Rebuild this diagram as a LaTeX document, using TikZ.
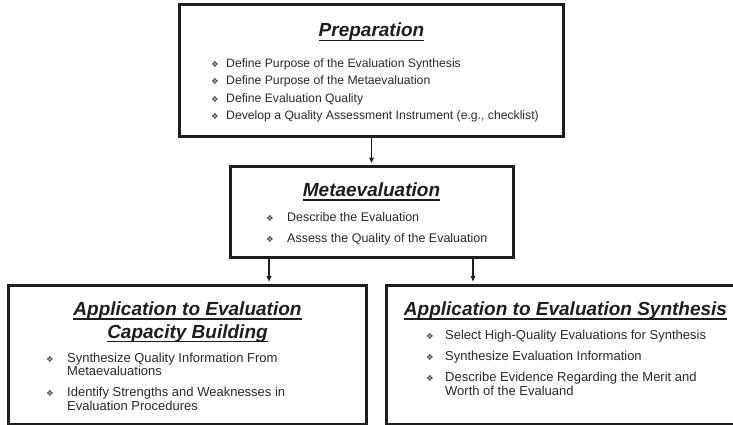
\documentclass[tikz,border=0pt]{standalone}
\usepackage{fontspec}
\setmainfont{Liberation Sans}
\newfontfamily\dingfont{DejaVu Sans}
\usetikzlibrary{arrows.meta}
\definecolor{ink}{HTML}{1E1E1E}
\definecolor{txt}{HTML}{2A2A2A}
\definecolor{dingcol}{HTML}{4A4A4A}
% underlined heading with a heavier rule than \underline gives
\newcommand\titleul[1]{\setbox0=\hbox{#1}\rlap{\rule[-4.2pt]{\wd0}{1.6pt}}\box0}

\begin{document}
\begin{tikzpicture}[x=1pt,y=-1pt,
  box/.style={draw=ink, line width=3pt, inner sep=0pt, fill=white},
  heading/.style={anchor=base, inner sep=0pt, text=ink,
    font=\fontsize{19}{22}\selectfont\bfseries\itshape},
  itemtext/.style={anchor=base west, inner sep=0pt, text=txt},
  smallitem/.style={itemtext, font=\fontsize{12.2}{14}\selectfont},
  miditem/.style={itemtext, font=\fontsize{12.5}{14}\selectfont},
  bigitem/.style={itemtext, font=\fontsize{13}{15}\selectfont},
  ding/.style={anchor=base, inner sep=0pt, text=dingcol,
    font=\dingfont\fontsize{8.5}{9}\selectfont},
  link/.style={draw=ink, line width=1.6pt, -{Latex[length=6pt,width=5.5pt]},
    shorten >=1.5pt}
]
\useasboundingbox (0,0) rectangle (733,425);

% ---------- boxes ----------
\node[box, minimum width=383.6pt, minimum height=131.8pt] (prep) at (371.5,70.6) {};
\node[box, minimum width=283pt, minimum height=90.5pt] (meta) at (371.5,211.75) {};
\node[box, minimum width=358pt, minimum height=139pt] (ecb) at (187.5,354.5) {};
\node[box, minimum width=358.5pt, minimum height=139pt] (syn) at (565.75,354.5) {};

% ---------- connectors ----------
\draw[link] (prep.south) -- (meta.north);
\draw[link] ([xshift=-102.5pt]meta.south) -- ([xshift=-102.5pt]meta.south |- ecb.north);
\draw[link] ([xshift=101.5pt]meta.south) -- ([xshift=101.5pt]meta.south |- syn.north);

% ---------- Preparation ----------
\node[heading] (prepT) at (371.5,37) {\titleul{Preparation}};
\node[ding] (prepB1) at (215,67.5) {❖};
\node[smallitem] (prepI1) at (226,67.5) {Define Purpose of the Evaluation Synthesis};
\node[ding] (prepB2) at (215,85) {❖};
\node[smallitem] (prepI2) at (226,85) {Define Purpose of the Metaevaluation};
\node[ding] (prepB3) at (215,102.5) {❖};
\node[smallitem] (prepI3) at (226,102.5) {Define Evaluation Quality};
\node[ding] (prepB4) at (215,120) {❖};
\node[smallitem] (prepI4) at (226,120) {Develop a Quality Assessment Instrument (e.g., checklist)};

% ---------- Metaevaluation ----------
\node[heading] (metaT) at (371.5,196.5) {\titleul{Metaevaluation}};
\node[ding] (metaB1) at (270,221) {❖};
\node[miditem] (metaI1) at (287,221) {Describe the Evaluation};
\node[ding] (metaB2) at (270,242) {❖};
\node[miditem] (metaI2) at (287,242) {Assess the Quality of the Evaluation};

% ---------- Application to Evaluation Capacity Building ----------
\node[heading] (ecbT1) at (187.5,315.5) {\titleul{Application to Evaluation}};
\node[heading] (ecbT2) at (187.5,338) {\titleul{Capacity Building}};
\node[ding] (ecbB1) at (50,362) {❖};
\node[bigitem] (ecbI1a) at (67,362) {Synthesize Quality Information From};
\node[bigitem] (ecbI1b) at (67,375.5) {Metaevaluations};
\node[ding] (ecbB2) at (50,396.5) {❖};
\node[bigitem] (ecbI2a) at (67,396.5) {Identify Strengths and Weaknesses in};
\node[bigitem] (ecbI2b) at (67,410.5) {Evaluation Procedures};

% ---------- Application to Evaluation Synthesis ----------
\node[heading] (synT) at (565.5,315.5) {\titleul{Application to Evaluation Synthesis}};
\node[ding] (synB1) at (430,339.5) {❖};
\node[bigitem] (synI1) at (445,339.5) {Select High-Quality Evaluations for Synthesis};
\node[ding] (synB2) at (430,360) {❖};
\node[bigitem] (synI2) at (445,360) {Synthesize Evaluation Information};
\node[ding] (synB3) at (430,381) {❖};
\node[bigitem] (synI3a) at (445,381) {Describe Evidence Regarding the Merit and};
\node[bigitem] (synI3b) at (445,395) {Worth of the Evaluand};

\end{tikzpicture}
\end{document}
